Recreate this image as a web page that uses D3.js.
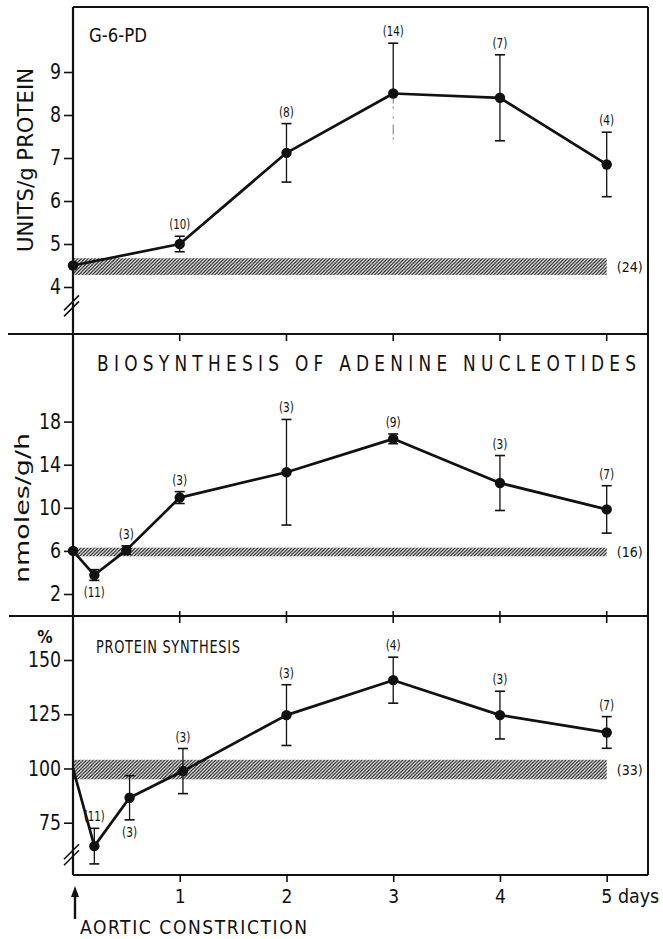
<!DOCTYPE html>
<html><head><meta charset="utf-8">
<script src="https://cdn.jsdelivr.net/npm/d3@7"></script>
<style>
html,body{margin:0;padding:0;background:#fff;}
text{font-family:"DejaVu Sans Condensed","DejaVu Sans",sans-serif;fill:#111;}
</style></head>
<body><svg id="c" width="663" height="939"></svg>
<script>
// ---- data ----
const xTicks = [1, 2, 3, 4, 5];
const xTickLabels = ["1", "2", "3", "4", "5 days"];

const g6pdDays = [0, 1, 2, 3, 4, 5];
const g6pdMean = [4.5, 5.0, 7.12, 8.5, 8.4, 6.85];
const g6pdErr  = [0, 0.18, 0.68, 1.17, 1.0, 0.75];
const g6pdN    = ["", "(10)", "(8)", "(14)", "(7)", "(4)"];
const g6pdNPos = ["", "above", "above", "above", "above", "above"];
const g6pdBand = [4.28, 4.67];
const g6pdBandN = "(24)";
const g6pdTicks = [4, 5, 6, 7, 8, 9];

const adenDays = [0, 0.2, 0.5, 1, 2, 3, 4, 5];
const adenMean = [6.0, 3.76, 6.07, 10.95, 13.3, 16.4, 12.3, 9.85];
const adenErr  = [0, 0.5, 0.4, 0.55, 4.9, 0.45, 2.55, 2.2];
const adenN    = ["", "(11)", "(3)", "(3)", "(3)", "(9)", "(3)", "(7)"];
const adenNPos = ["", "below", "above", "above", "above", "above", "above", "above"];
const adenBand = [5.5, 6.3];
const adenBandN = "(16)";
const adenTicks = [2, 6, 10, 14, 18];

const protDays = [0, 0.2, 0.53, 1.03, 2, 3, 4, 5];
const protMean = [100, 64.2, 86.5, 98.8, 124.6, 140.7, 124.6, 116.6];
const protErr  = [0, 8.2, 10.2, 10.4, 14, 10.6, 11, 7.3];
const protN    = ["", "(11)", "(3)", "(3)", "(3)", "(4)", "(3)", "(7)"];
const protNPos = ["", "above", "below", "above", "above", "above", "above", "above"];
const protBand = [95, 104];
const protBandN = "(33)";
const protTicks = [75, 100, 125, 150];

// ---- layout ----
const svg = d3.select("#c");
const L = 73, R = 648;
const x = d3.scaleLinear().domain([0, 5]).range([L, 606.7]);

const panels = [
  {top: 7, bottom: 334, y: d3.scaleLinear().domain([4, 9]).range([287, 72]),
   days: g6pdDays, mean: g6pdMean, err: g6pdErr, n: g6pdN, npos: g6pdNPos,
   band: g6pdBand, bandN: g6pdBandN, ticks: g6pdTicks, markFirst: true, brk: 3.55},
  {top: 334, bottom: 616, y: d3.scaleLinear().domain([2, 18]).range([594, 421.6]),
   days: adenDays, mean: adenMean, err: adenErr, n: adenN, npos: adenNPos,
   band: adenBand, bandN: adenBandN, ticks: adenTicks, markFirst: true, brk: null},
  {top: 616, bottom: 875, y: d3.scaleLinear().domain([75, 150]).range([822.7, 660]),
   days: protDays, mean: protMean, err: protErr, n: protN, npos: protNPos,
   band: protBand, bandN: protBandN, ticks: protTicks, markFirst: false, brk: 60}
];

// hatch pattern
const defs = svg.append("defs");
const pat = defs.append("pattern").attr("id", "hatch")
  .attr("patternUnits", "userSpaceOnUse").attr("width", 3.4).attr("height", 3.4);
pat.append("path").attr("d", "M-0.85,0.85 l1.7,-1.7 M0,3.4 l3.4,-3.4 M2.55,4.25 l1.7,-1.7")
  .attr("stroke", "#111").attr("stroke-width", 1.2);

panels.forEach((p, pi) => {
  const g = svg.append("g");
  const y = p.y;
  // band
  g.append("rect").attr("x", x(0)).attr("width", x(5) - x(0))
    .attr("y", y(p.band[1])).attr("height", y(p.band[0]) - y(p.band[1]))
    .attr("fill", "url(#hatch)");
  g.append("text").attr("x", x(5) + 10).attr("y", (y(p.band[0]) + y(p.band[1])) / 2 + 5)
    .attr("font-size", 14).attr("textLength", 26).attr("lengthAdjust", "spacingAndGlyphs").text(p.bandN);

  // y axis (left, outward ticks)
  const ax = d3.axisLeft(y).tickValues(p.ticks).tickSize(9).tickPadding(3).tickFormat(d3.format("d"));
  const ag = g.append("g").attr("transform", `translate(${L},0)`).call(ax);
  ag.select(".domain").remove();
  ag.selectAll("line").attr("stroke", "#111").attr("stroke-width", 1.6);
  ag.selectAll("text").attr("font-size", 21).attr("fill", "#111")
    .attr("transform", "scale(0.92,1)").attr("x", -13)
    .style("font-family", '"DejaVu Sans Condensed","DejaVu Sans",sans-serif');

  // data line
  const pts = p.days.map((d, i) => [x(d), y(p.mean[i])]);
  g.append("path").attr("d", d3.line()(pts)).attr("fill", "none")
    .attr("stroke", "#111").attr("stroke-width", 2.7).attr("stroke-linejoin", "round");

  // error bars
  p.days.forEach((d, i) => {
    if (!p.err[i]) return;
    const cx = x(d), y1 = y(p.mean[i] + p.err[i]), y0 = y(p.mean[i] - p.err[i]);
    const faintLower = (pi === 0 && d === 3);
    g.append("line").attr("x1", cx).attr("x2", cx).attr("y1", y1).attr("y2", y(p.mean[i]))
      .attr("stroke", "#111").attr("stroke-width", 1.3);
    g.append("line").attr("x1", cx).attr("x2", cx).attr("y1", y(p.mean[i])).attr("y2", y0)
      .attr("stroke", faintLower ? "#666" : "#111").attr("stroke-width", faintLower ? 0.9 : 1.3)
      .attr("stroke-dasharray", faintLower ? "10,3,2,8,2,6" : null);
    g.append("line").attr("x1", cx - 5).attr("x2", cx + 5).attr("y1", y1).attr("y2", y1)
      .attr("stroke", "#111").attr("stroke-width", 1.6);
    if (!faintLower)
      g.append("line").attr("x1", cx - 5).attr("x2", cx + 5).attr("y1", y0).attr("y2", y0)
        .attr("stroke", "#111").attr("stroke-width", 1.6);
  });

  // markers
  p.days.forEach((d, i) => {
    if (i === 0 && !p.markFirst) return;
    g.append("circle").attr("cx", x(d)).attr("cy", y(p.mean[i])).attr("r", 5.2)
      .attr("fill", "#111");
  });

  // n labels
  p.days.forEach((d, i) => {
    if (!p.n[i]) return;
    const above = p.npos[i] === "above";
    const ty = above ? y(p.mean[i] + p.err[i]) - 7 : y(p.mean[i] - p.err[i]) + 17;
    g.append("text").attr("x", x(d)).attr("y", ty)
      .attr("text-anchor", "middle").attr("font-size", 14)
      .attr("textLength", p.n[i].length > 3 ? 21 : 15).attr("lengthAdjust", "spacingAndGlyphs")
      .text(p.n[i]);
  });

  // x ticks on panel edges
  xTicks.forEach(t => {
    if (pi >= 1) {
      g.append("line").attr("x1", x(t)).attr("x2", x(t)).attr("y1", p.top).attr("y2", p.top + 7)
        .attr("stroke", "#111").attr("stroke-width", 1.6);
    }
    if (pi === 1) {
      g.append("line").attr("x1", x(t)).attr("x2", x(t)).attr("y1", p.bottom - 5).attr("y2", p.bottom)
        .attr("stroke", "#111").attr("stroke-width", 1.6);
    }
  });

  // break marks
  if (p.brk !== null) {
    const by = y(p.brk);
    [-3, 3].forEach(o => {
      g.append("line").attr("x1", L - 9).attr("y1", by + 7 + o).attr("x2", L + 6).attr("y2", by - 8 + o)
        .attr("stroke", "#111").attr("stroke-width", 1.6);
    });
  }
});

// frame
const fr = svg.append("g").attr("stroke", "#111").attr("fill", "none");
fr.append("line").attr("x1", L).attr("x2", L).attr("y1", 7).attr("y2", 875).attr("stroke-width", 2.2);
fr.append("line").attr("x1", R).attr("x2", R).attr("y1", 7).attr("y2", 875).attr("stroke-width", 2);
fr.append("line").attr("x1", L).attr("x2", R).attr("y1", 7).attr("y2", 7).attr("stroke-width", 2);
fr.append("line").attr("x1", 8).attr("x2", R).attr("y1", 334).attr("y2", 334).attr("stroke-width", 2.2);
fr.append("line").attr("x1", 9).attr("x2", R).attr("y1", 616).attr("y2", 616).attr("stroke-width", 2.2);
fr.append("line").attr("x1", L).attr("x2", R).attr("y1", 875).attr("y2", 875).attr("stroke-width", 2.2);

// bottom x axis
const xa = d3.axisBottom(x).tickValues(xTicks).tickSize(7).tickPadding(8)
  .tickFormat((d, i) => xTickLabels[i]);
const xg = svg.append("g").attr("transform", "translate(0,875)").call(xa);
xg.select(".domain").remove();
xg.selectAll("line").attr("stroke", "#111").attr("stroke-width", 1.6);
xg.selectAll("text").attr("font-size", 19).attr("fill", "#111")
  .style("font-family", '"DejaVu Sans Condensed","DejaVu Sans",sans-serif');
xg.selectAll(".tick").filter((d, i) => i === xTicks.length - 1).select("text")
  .attr("text-anchor", "start").attr("x", -6).attr("textLength", 58).attr("lengthAdjust", "spacingAndGlyphs");

// spaced, narrow-letter titles
function spacedText(tx, ty, size, sx, len, str) {
  svg.append("text").attr("transform", `scale(${sx},1)`)
    .attr("x", tx / sx).attr("y", ty).attr("font-size", size)
    .attr("textLength", len / sx).attr("lengthAdjust", "spacing").text(str);
}
svg.append("text").attr("x", 89).attr("y", 41.5).attr("font-size", 20)
  .attr("textLength", 58).attr("lengthAdjust", "spacingAndGlyphs").text("G-6-PD");
spacedText(97, 371.5, 20.5, 0.92, 539, "BIOSYNTHESIS OF ADENINE NUCLEOTIDES");
spacedText(96, 653, 18, 0.8, 144, "PROTEIN SYNTHESIS");

// y titles
svg.append("text").attr("transform", "translate(33,160) rotate(-90)").attr("text-anchor", "middle")
  .attr("font-size", 22).attr("textLength", 184).attr("lengthAdjust", "spacingAndGlyphs")
  .text("UNITS/g PROTEIN");
svg.append("text").attr("transform", "translate(29,508) rotate(-90)").attr("text-anchor", "middle")
  .attr("font-size", 20).attr("textLength", 150).attr("lengthAdjust", "spacingAndGlyphs")
  .text("nmoles/g/h");
svg.append("text").attr("x", 45).attr("y", 643).attr("text-anchor", "middle")
  .attr("font-size", 17).attr("font-weight", "bold").text("%");

// arrow + aortic constriction
svg.append("line").attr("x1", 75).attr("x2", 75).attr("y1", 919).attr("y2", 893)
  .attr("stroke", "#111").attr("stroke-width", 2.4);
svg.append("path").attr("d", "M75,886 L71,897 L79,897 Z").attr("fill", "#111");
spacedText(80, 934, 19, 1.0, 227, "AORTIC CONSTRICTION");
</script></body></html>
